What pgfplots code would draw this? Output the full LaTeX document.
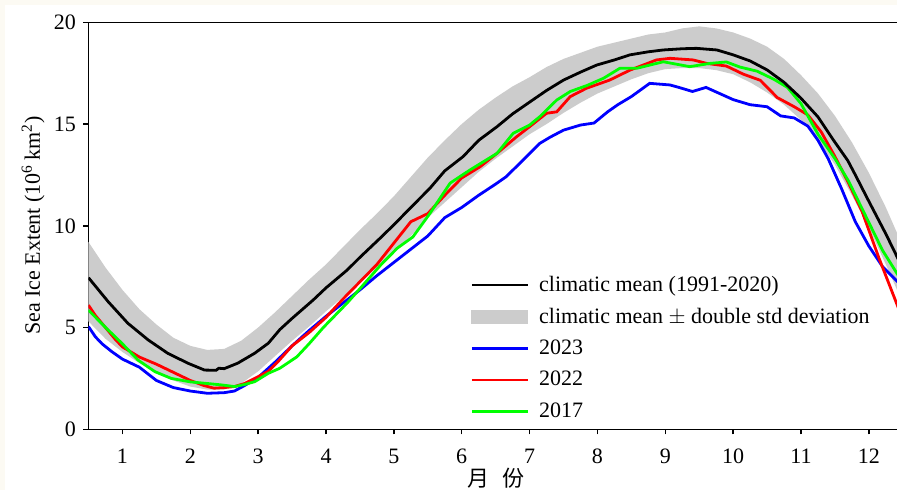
\documentclass[border=0pt]{standalone}
\usepackage{fontspec}
\setmainfont{Liberation Serif}
\newfontfamily\cjk{Noto Sans CJK SC}
\usepackage{pgfplots}
\pgfplotsset{compat=1.18}
\definecolor{cream}{RGB}{252,250,243}
\definecolor{cblue}{RGB}{0,0,255}
\definecolor{cred}{RGB}{255,0,0}
\definecolor{cgreen}{RGB}{0,255,0}
\definecolor{band}{RGB}{204,204,204}
\begin{document}
\fontsize{11}{13.2}\selectfont
\begin{tikzpicture}
\fill[cream] (-44.25pt,-30.35pt) rectangle (404.25pt,214.65pt);
\fill[white] (-41.75pt,-30.35pt) rectangle (404.25pt,212.15pt);
\begin{axis}[
  at={(0pt,0pt)}, anchor=south west,
  scale only axis, width=407.15pt, height=203.5pt,
  xmin=0.5, xmax=12.5, ymin=0, ymax=20,
  xtick={1,2,...,12}, ytick={0,5,10,15,20},
  xtick pos=lower, ytick pos=left,
  tick align=outside, major tick length=2.5pt,
  axis line style={line width=0.75pt}, tick style={line width=0.75pt, black},
  /pgf/number format/assume math mode=true,
  xticklabel style={yshift=-3.5pt},
  xlabel={\cjk 月\hspace{0.6em}份},
  ylabel={Sea Ice Extent (10\textsuperscript{6}\,km\textsuperscript{2})},
  every axis x label/.style={at={(axis description cs:0.5,0)}, anchor=center, yshift=-24.5pt},
  every axis y label/.style={at={(axis description cs:-0.068,0.5)}, anchor=center, rotate=90},
  legend cell align=left,
  legend style={at={(axis description cs:0.4685,0.388)}, anchor=north west, draw=none, fill=none,
    row sep=2.7pt, column sep=3pt, inner sep=0pt},
  legend image code/.code={\draw[#1] (0pt,0pt) -- (28pt,0pt);},
]
\addlegendimage{black, line width=1.4pt}
\addlegendentry{climatic mean (1991-2020)}
\addlegendimage{legend image code/.code={\fill[band] (0pt,-3.25pt) rectangle (28pt,3.25pt);}}
\addlegendentry{climatic mean $\pm$ double std deviation}
\addlegendimage{cblue, line width=1.4pt}
\addlegendentry{2023}
\addlegendimage{cred, line width=1.4pt}
\addlegendentry{2022}
\addlegendimage{cgreen, line width=1.4pt}
\addlegendentry{2017}

% band: upper bound forward, lower bound backward
\addplot[fill=band, draw=none, forget plot] coordinates {
(0.5,9.2)(0.75,7.95)(1.0,6.85)(1.25,5.9)(1.5,5.15)(1.75,4.5)(2.0,4.1)(2.25,3.9)(2.5,3.95)(2.75,4.35)
(3.0,5.0)(3.25,5.75)(3.5,6.55)(3.75,7.35)(4.0,8.1)(4.25,8.95)(4.5,9.8)(4.75,10.6)(5.0,11.45)(5.25,12.4)
(5.5,13.35)(5.75,14.2)(6.0,15.0)(6.25,15.7)(6.5,16.3)(6.75,16.85)(7.0,17.3)(7.25,17.8)(7.5,18.2)(7.75,18.5)
(8.0,18.8)(8.25,19.0)(8.5,19.2)(8.75,19.4)(9.0,19.5)(9.25,19.7)(9.5,19.8)(9.75,19.7)(10.0,19.5)(10.25,19.2)
(10.5,18.8)(10.75,18.2)(11.0,17.4)(11.25,16.5)(11.5,15.4)(11.75,14.1)(12.0,12.6)(12.25,10.9)(12.5,9.0)
(12.5,6.2)(12.25,8.1)(12.0,9.9)(11.75,11.5)(11.5,13.0)(11.25,14.2)(11.0,15.2)(10.75,15.95)(10.5,16.55)(10.25,17.05)
(10.0,17.45)(9.75,17.65)(9.5,17.75)(9.25,17.75)(9.0,17.7)(8.75,17.5)(8.5,17.2)(8.25,16.85)(8.0,16.5)(7.75,16.05)
(7.5,15.55)(7.25,15.0)(7.0,14.5)(6.75,13.9)(6.5,13.3)(6.25,12.65)(6.0,11.9)(5.75,11.15)(5.5,10.4)(5.25,9.5)
(5.0,8.7)(4.75,7.95)(4.5,7.2)(4.25,6.5)(4.0,5.8)(3.75,5.05)(3.5,4.35)(3.25,3.6)(3.0,2.85)(2.75,2.25)
(2.5,1.95)(2.25,1.95)(2.0,2.1)(1.75,2.4)(1.5,2.8)(1.25,3.25)(1.0,3.8)(0.75,4.45)(0.5,5.3)} -- cycle;

% 2023
\addplot[cblue, line width=1.4pt, forget plot] coordinates {
(0.5,5.05)(0.6,4.55)(0.7,4.2)(0.85,3.8)(1.0,3.45)(1.25,3.05)(1.5,2.4)(1.75,2.05)(2.0,1.88)(2.25,1.77)
(2.5,1.8)(2.65,1.88)(2.8,2.15)(3.0,2.55)(3.25,3.3)(3.5,4.1)(3.75,4.85)(4.0,5.55)(4.25,6.2)(4.5,6.85)
(4.75,7.55)(5.0,8.2)(5.25,8.85)(5.5,9.5)(5.75,10.4)(6.0,10.9)(6.25,11.5)(6.5,12.05)(6.65,12.4)(6.85,13.05)
(7.0,13.55)(7.15,14.05)(7.3,14.35)(7.5,14.7)(7.75,14.95)(7.95,15.05)(8.15,15.6)(8.3,15.95)(8.5,16.35)(8.77,17.0)
(9.07,16.92)(9.2,16.8)(9.4,16.6)(9.6,16.8)(9.8,16.5)(10.0,16.2)(10.25,15.95)(10.5,15.85)(10.7,15.4)(10.9,15.3)
(11.1,14.9)(11.25,14.2)(11.4,13.3)(11.6,11.8)(11.8,10.2)(12.0,9.0)(12.2,8.0)(12.5,7.0)};
% 2022
\addplot[cred, line width=1.4pt, forget plot] coordinates {
(0.5,6.1)(0.6,5.6)(0.75,5.0)(0.9,4.4)(1.0,4.05)(1.25,3.55)(1.5,3.2)(1.75,2.8)(2.0,2.4)(2.2,2.15)
(2.35,2.02)(2.5,2.05)(2.65,2.1)(2.8,2.25)(2.95,2.5)(3.15,2.85)(3.3,3.35)(3.5,4.1)(3.75,4.75)(4.0,5.5)
(4.25,6.4)(4.5,7.25)(4.75,8.1)(5.0,9.15)(5.25,10.2)(5.5,10.6)(5.75,11.5)(6.0,12.35)(6.27,12.9)(6.52,13.56)
(6.81,14.38)(7.0,14.87)(7.25,15.53)(7.4,15.6)(7.6,16.35)(7.84,16.76)(8.18,17.16)(8.48,17.65)(8.87,18.15)(9.07,18.23)
(9.41,18.15)(9.61,17.98)(9.9,17.85)(10.15,17.45)(10.4,17.15)(10.65,16.3)(10.9,15.85)(11.1,15.45)(11.3,14.6)(11.5,13.4)
(11.7,12.1)(11.9,10.7)(12.15,8.4)(12.5,5.4)};
% 2017
\addplot[cgreen, line width=1.4pt, forget plot] coordinates {
(0.5,5.85)(0.79,4.88)(1.0,4.2)(1.23,3.4)(1.48,2.83)(1.72,2.5)(2.0,2.33)(2.25,2.25)(2.46,2.18)(2.65,2.1)
(2.8,2.2)(2.95,2.34)(3.15,2.75)(3.32,3.0)(3.57,3.56)(3.75,4.2)(3.96,5.0)(4.31,6.2)(4.55,7.1)(4.8,8.05)
(5.05,8.9)(5.28,9.45)(5.53,10.6)(5.83,12.1)(6.12,12.74)(6.52,13.56)(6.76,14.55)(7.0,14.95)(7.15,15.36)(7.4,16.18)
(7.6,16.6)(7.85,16.9)(8.09,17.25)(8.33,17.74)(8.58,17.74)(8.97,18.06)(9.15,17.95)(9.36,17.82)(9.66,17.98)(9.9,18.05)
(10.1,17.8)(10.35,17.6)(10.6,17.2)(10.8,16.8)(11.0,16.0)(11.25,14.5)(11.5,13.3)(11.7,12.2)(11.95,10.5)(12.2,8.8)
(12.5,7.2)};
% mean
\addplot[black, line width=1.4pt, forget plot] coordinates {
(0.5,7.45)(0.79,6.27)(1.08,5.21)(1.38,4.39)(1.67,3.73)(1.97,3.24)(2.21,2.91)(2.38,2.9)(2.42,3.0)(2.5,2.98)
(2.7,3.25)(2.95,3.74)(3.15,4.23)(3.32,4.9)(3.5,5.45)(3.81,6.35)(4.0,6.95)(4.31,7.82)(4.5,8.45)(4.8,9.4)
(5.0,10.05)(5.28,11.0)(5.53,11.84)(5.75,12.7)(6.02,13.4)(6.25,14.2)(6.52,14.87)(6.75,15.5)(7.01,16.1)(7.25,16.65)
(7.5,17.16)(7.75,17.55)(7.99,17.9)(8.25,18.15)(8.48,18.4)(8.75,18.55)(8.97,18.64)(9.25,18.7)(9.46,18.72)(9.76,18.64)
(10.0,18.4)(10.25,18.1)(10.5,17.66)(10.75,17.05)(10.99,16.3)(11.25,15.35)(11.48,14.2)(11.69,13.2)(11.8,12.5)(12.0,11.2)
(12.25,9.6)(12.5,7.9)};
\end{axis}
\pgfresetboundingbox
\useasboundingbox (-44.25pt,-30.35pt) rectangle (404.25pt,214.65pt);
\end{tikzpicture}
\end{document}
